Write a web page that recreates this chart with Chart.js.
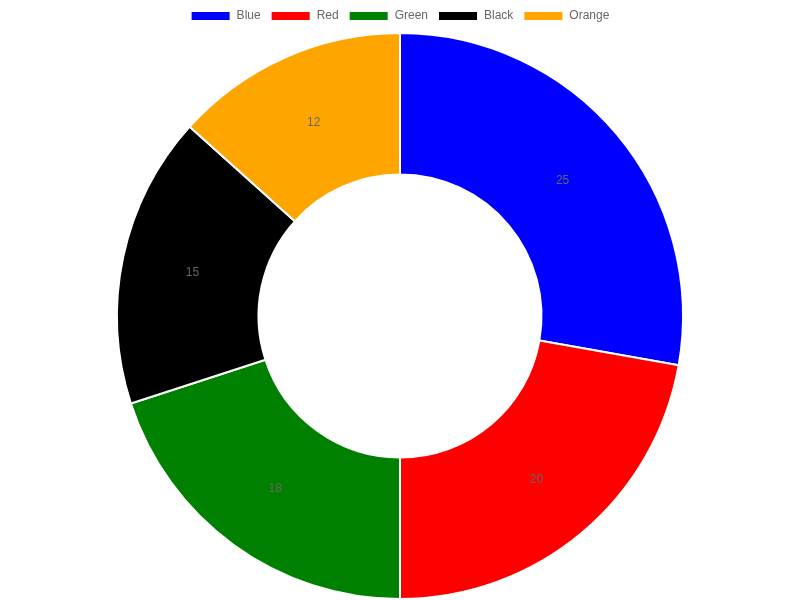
<!DOCTYPE html>
<html>
<head>
<meta charset="utf-8">
<script src="https://cdn.jsdelivr.net/npm/chart.js@4/dist/chart.umd.min.js"></script>
<style>
  html, body { margin: 0; padding: 0; background: #fff; }
  #wrap { width: 800px; height: 600px; }
</style>
</head>
<body>
<div id="wrap"><canvas id="myChart"></canvas></div>
<script>
// dados do gráfico
const labels = ['Blue', 'Red', 'Green', 'Black', 'Orange'];
const values = [25, 20, 18, 15, 12];
const colors = ['#0000ff', '#ff0000', '#008000', '#000000', '#ffa500'];

// escreve o valor no meio de cada fatia
const valueLabels = {
  id: 'valueLabels',
  afterDatasetsDraw(chart) {
    const ctx = chart.ctx;
    ctx.save();
    ctx.font = '12px "Liberation Sans", Arial, sans-serif';
    ctx.fillStyle = '#666';
    ctx.textAlign = 'center';
    ctx.textBaseline = 'middle';
    chart.getDatasetMeta(0).data.forEach((arc, i) => {
      const p = arc.tooltipPosition();
      ctx.fillText(chart.data.datasets[0].data[i], p.x, p.y + 1);
    });
    ctx.restore();
  }
};

Chart.defaults.font.family = '"Liberation Sans", Arial, sans-serif';
Chart.defaults.color = '#666';

new Chart(document.getElementById('myChart'), {
  type: 'doughnut',
  data: {
    labels: labels,
    datasets: [{
      data: values,
      backgroundColor: colors,
      borderColor: '#fff',
      borderWidth: 2
    }]
  },
  options: {
    responsive: true,
    maintainAspectRatio: false,
    animation: false,
    cutout: '50%',
    plugins: {
      legend: {
        position: 'top',
        labels: { boxWidth: 40, boxHeight: 10, font: { size: 12 } }
      },
      tooltip: { enabled: false }
    }
  },
  plugins: [valueLabels]
});
</script>
</body>
</html>
